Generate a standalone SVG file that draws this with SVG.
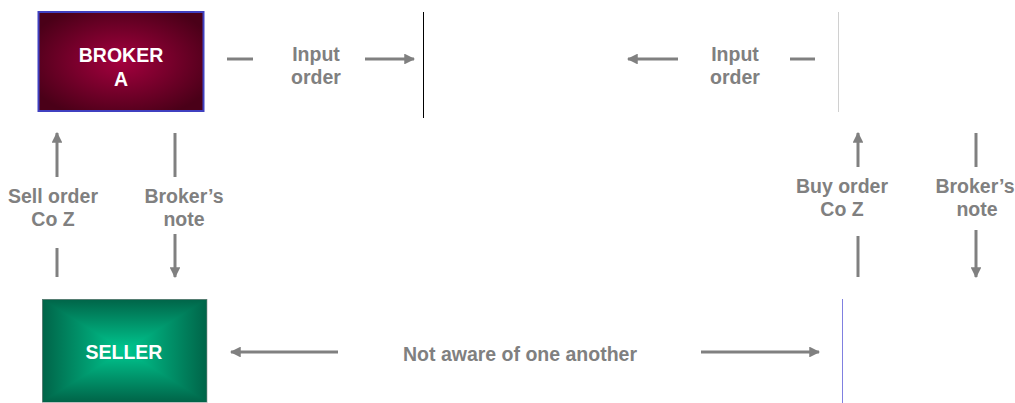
<svg xmlns="http://www.w3.org/2000/svg" width="1015" height="403" viewBox="0 0 1015 403">
<style>
.lbl{font-family:"Liberation Sans",Arial,sans-serif;font-weight:bold;font-size:19.5px;fill:#808080;text-anchor:middle}
.wt{font-family:"Liberation Sans",Arial,sans-serif;font-weight:bold;font-size:19.5px;fill:#ffffff;text-anchor:middle}
.ln{stroke:#808080;stroke-width:3;fill:none}
.ar{stroke:#808080;stroke-width:3;fill:none;marker-end:url(#ah)}
</style>
<defs>
<marker id="ah" viewBox="0 0 10 10" refX="9" refY="5" markerWidth="3.6" markerHeight="3.6" orient="auto" markerUnits="strokeWidth">
<path d="M0,0 L10,5 L0,10 Z" fill="#808080"/>
</marker>
<radialGradient id="gb" cx="0.5" cy="0.5" r="0.6">
<stop offset="0" stop-color="#a4003e"/>
<stop offset="1" stop-color="#4a0018"/>
</radialGradient>
<linearGradient id="gv" x1="0" y1="299" x2="0" y2="402" gradientUnits="userSpaceOnUse">
<stop offset="0" stop-color="#006448"/><stop offset="0.5" stop-color="#00c890"/><stop offset="1" stop-color="#006448"/>
</linearGradient>
<linearGradient id="gl" x1="42" y1="0" x2="124.5" y2="0" gradientUnits="userSpaceOnUse">
<stop offset="0" stop-color="#006448"/><stop offset="1" stop-color="#00c890"/>
</linearGradient>
<linearGradient id="gr" x1="207" y1="0" x2="124.5" y2="0" gradientUnits="userSpaceOnUse">
<stop offset="0" stop-color="#006448"/><stop offset="1" stop-color="#00c890"/>
</linearGradient>
</defs>
<rect width="1015" height="403" fill="#ffffff"/>

<g id="broker-a">
<rect x="38.5" y="12" width="165" height="99" fill="url(#gb)" stroke="#4040c0" stroke-width="2"/>
<text class="wt" x="121" y="62">BROKER</text>
<text class="wt" x="121" y="86">A</text>
</g>

<g id="seller">
<rect x="42" y="299" width="165" height="103" fill="url(#gv)"/>
<path d="M42,299 L42,402 L124.5,350.5 Z" fill="url(#gl)"/>
<path d="M207,299 L207,402 L124.5,350.5 Z" fill="url(#gr)"/>
<rect x="42.5" y="299.5" width="164.5" height="103" fill="none" stroke="#909090" stroke-width="1" stroke-opacity="0.6"/>
<text class="wt" x="124" y="359">SELLER</text>
</g>

<g id="exchange-left-line"><line x1="423.5" y1="12" x2="423.5" y2="118" stroke="#000000" stroke-width="1"/></g>
<g id="broker-b-line"><line x1="838.5" y1="12" x2="838.5" y2="112" stroke="#d0d0d0" stroke-width="1"/></g>
<g id="buyer-line"><line x1="842.5" y1="299" x2="842.5" y2="403" stroke="#8080e0" stroke-width="1"/></g>

<g id="connectors">
<line class="ln" x1="227" y1="59" x2="253" y2="59"/>
<line class="ar" x1="365" y1="59" x2="414" y2="59"/>
<line class="ar" x1="678" y1="59" x2="628" y2="59"/>
<line class="ln" x1="790" y1="59" x2="815" y2="59"/>

<line class="ar" x1="57" y1="177" x2="57" y2="133"/>
<line class="ln" x1="57" y1="248" x2="57" y2="277"/>
<line class="ln" x1="175" y1="133" x2="175" y2="177"/>
<line class="ar" x1="175" y1="234" x2="175" y2="277"/>

<line class="ar" x1="858" y1="167" x2="858" y2="133"/>
<line class="ln" x1="858" y1="236" x2="858" y2="277"/>
<line class="ln" x1="976" y1="133" x2="976" y2="167"/>
<line class="ar" x1="976" y1="230" x2="976" y2="277"/>

<line class="ar" x1="338" y1="352" x2="231" y2="352"/>
<line class="ar" x1="701" y1="352" x2="819" y2="352"/>
</g>

<g id="labels">
<text class="lbl" x="316" y="61">Input</text>
<text class="lbl" x="316" y="84">order</text>
<text class="lbl" x="735" y="61">Input</text>
<text class="lbl" x="735" y="84">order</text>
<text class="lbl" x="53" y="203">Sell order</text>
<text class="lbl" x="53" y="226">Co Z</text>
<text class="lbl" x="184" y="203">Broker’s</text>
<text class="lbl" x="184" y="226">note</text>
<text class="lbl" x="842" y="193">Buy order</text>
<text class="lbl" x="842" y="216">Co Z</text>
<text class="lbl" x="975" y="193">Broker’s</text>
<text class="lbl" x="977" y="216">note</text>
<text class="lbl" x="520" y="361">Not aware of one another</text>
</g>
</svg>
